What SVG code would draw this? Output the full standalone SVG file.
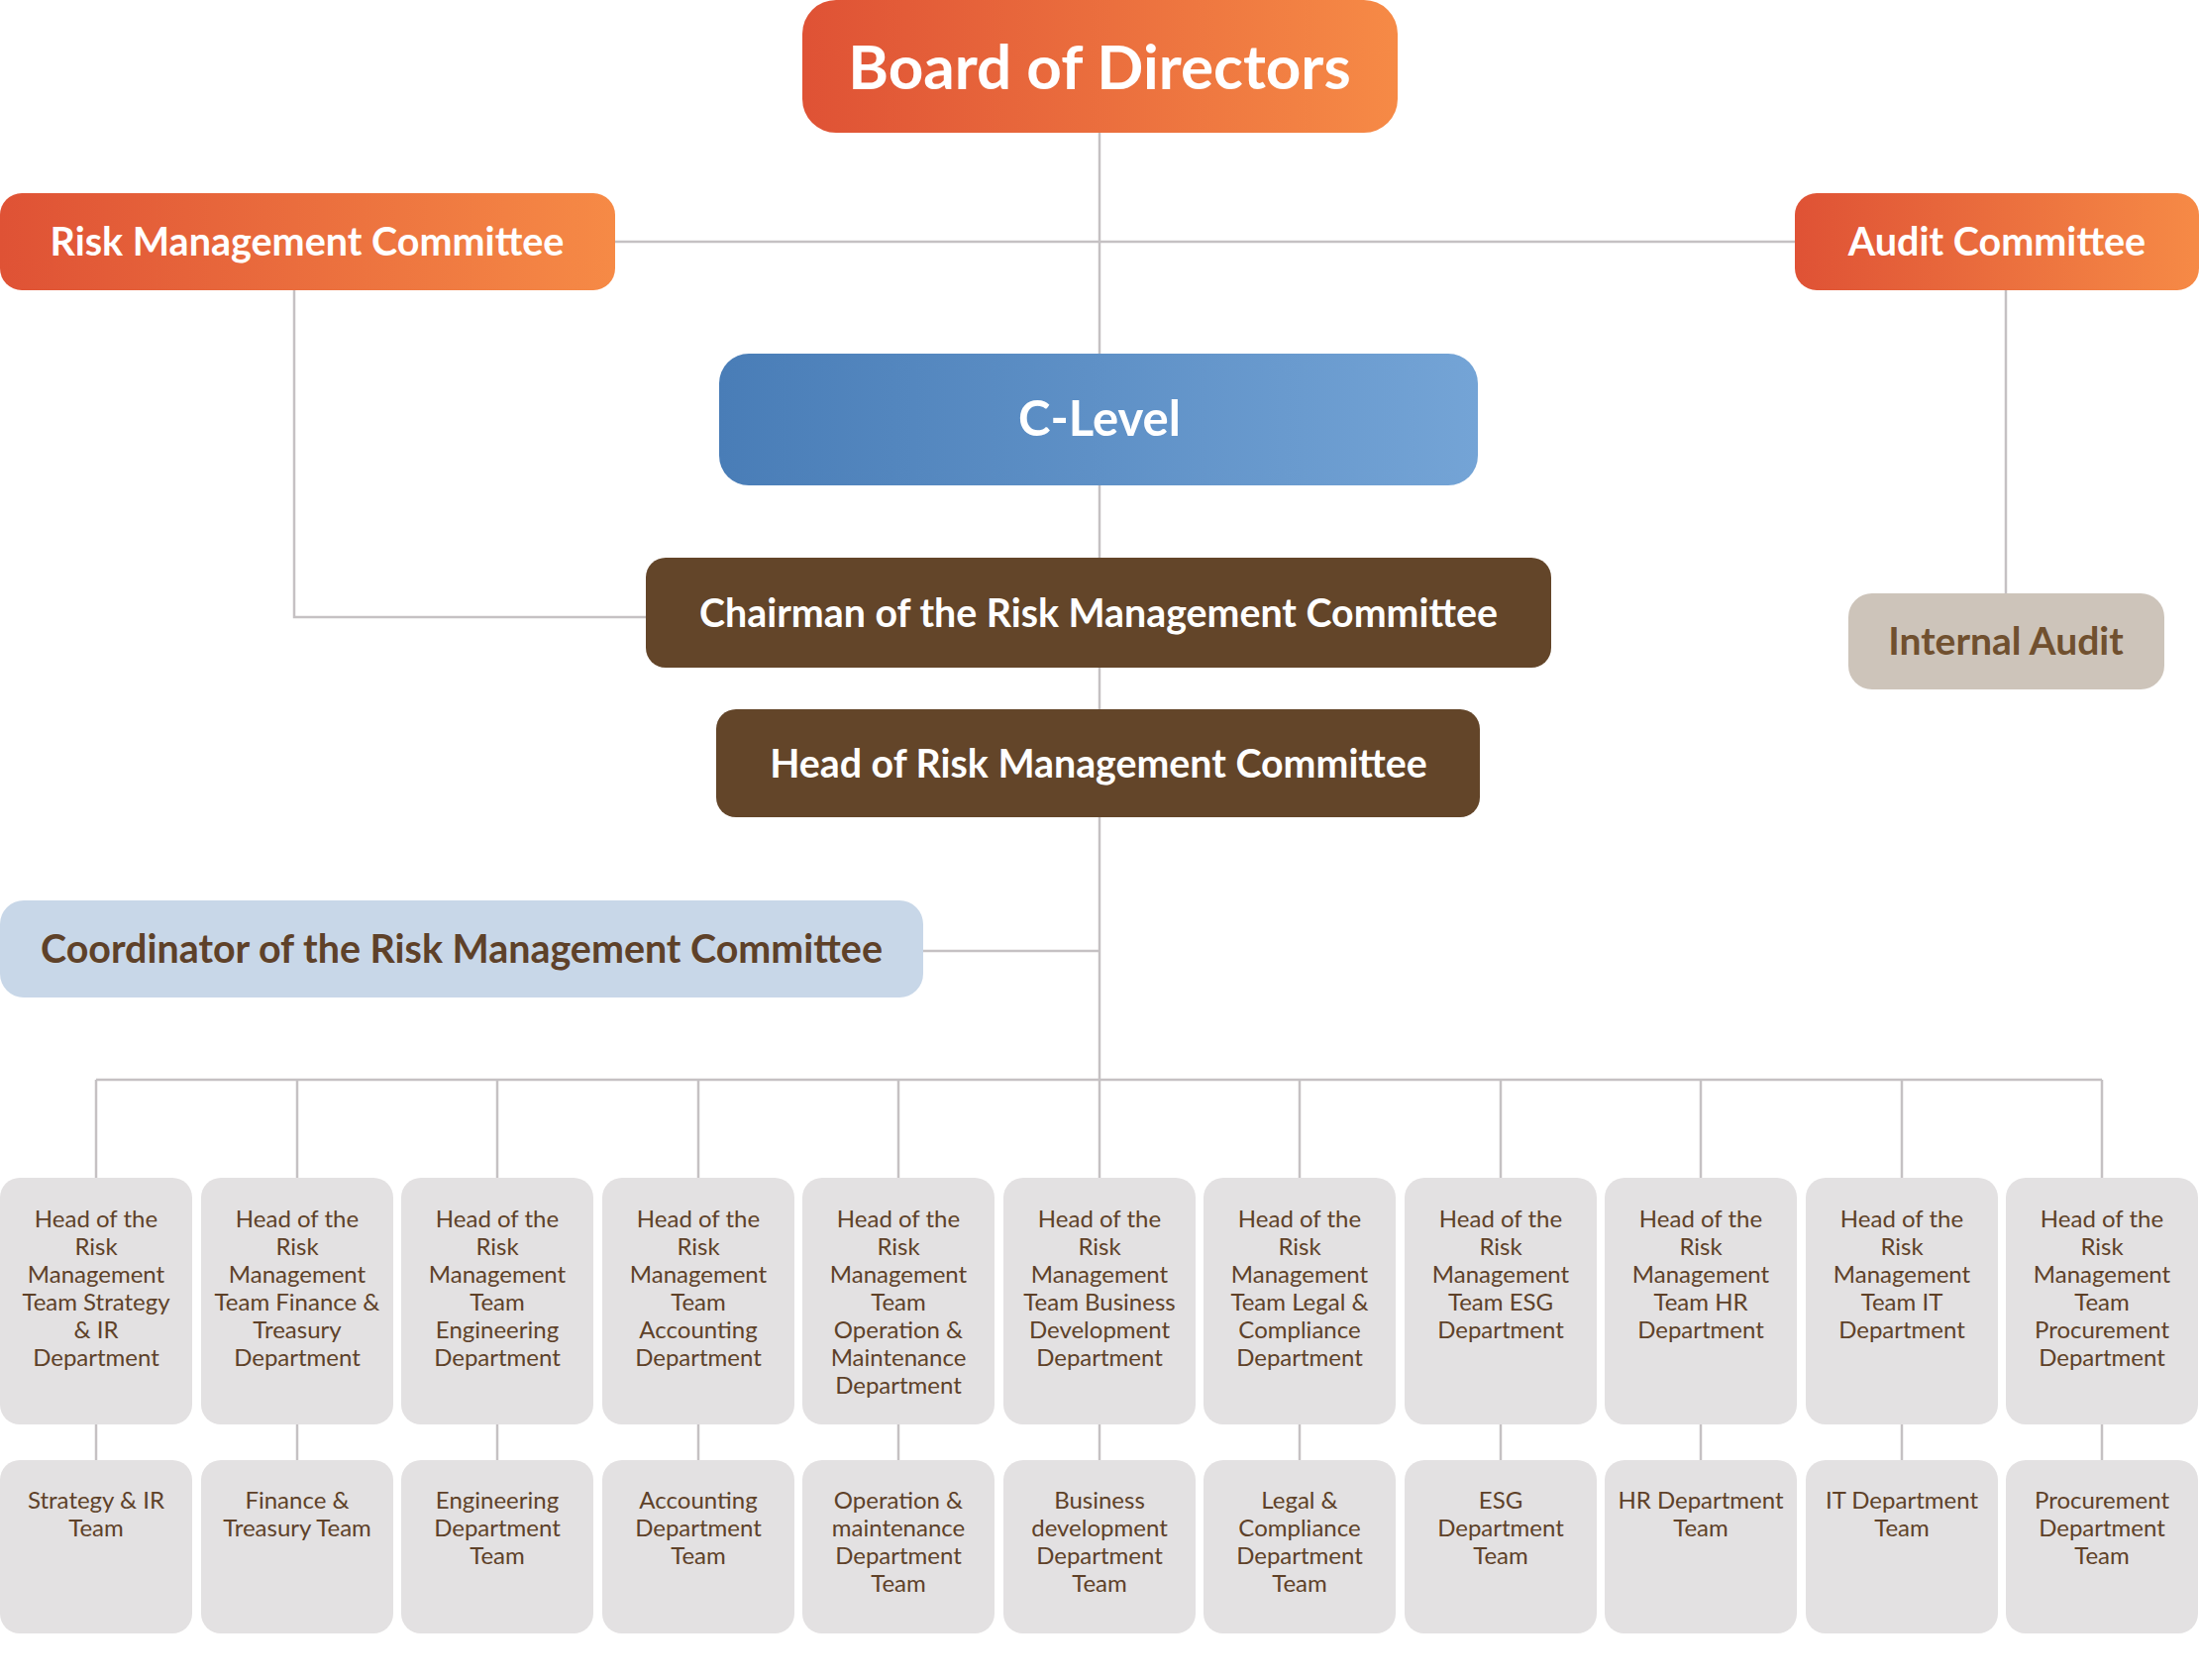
<svg xmlns="http://www.w3.org/2000/svg" width="2220" height="1696" viewBox="0 0 2220 1696">
<defs>
<linearGradient id="orange" x1="0" y1="0" x2="1" y2="0"><stop offset="0" stop-color="#DF5235"/><stop offset="1" stop-color="#F68A46"/></linearGradient>
<linearGradient id="blue" x1="0" y1="0" x2="1" y2="0"><stop offset="0" stop-color="#497DB7"/><stop offset="1" stop-color="#74A4D6"/></linearGradient>
<style>
.ln{stroke:#C5C1C3;stroke-width:2.5;fill:none}
.big{font-family:Lato,"Liberation Sans",sans-serif;font-weight:700;text-anchor:middle}
.w{fill:#FFFFFF}
.br{fill:#5E4129}
.ia{fill:#70502F}
.card{fill:#E3E1E2}
.sm{font-family:Lato,"Liberation Sans",sans-serif;font-size:24px;fill:#5E4129;text-anchor:middle}
</style>
</defs>
<rect width="2220" height="1696" fill="#FFFFFF"/>
<g id="connectors">
<line class="ln" x1="1110" y1="134" x2="1110" y2="357"/>
<line class="ln" x1="621" y1="244" x2="1812" y2="244"/>
<polyline class="ln" points="297,293 297,623 652,623"/>
<line class="ln" x1="2025" y1="293" x2="2025" y2="599"/>
<line class="ln" x1="1110" y1="490" x2="1110" y2="563"/>
<line class="ln" x1="1110" y1="674" x2="1110" y2="716"/>
<line class="ln" x1="1110" y1="825" x2="1110" y2="1090"/>
<line class="ln" x1="932" y1="960" x2="1110" y2="960"/>
<line class="ln" x1="97" y1="1090" x2="2122" y2="1090"/>
<path class="ln" d="M97,1090V1189M300,1090V1189M502,1090V1189M705,1090V1189M907,1090V1189M1110,1090V1189M1312,1090V1189M1515,1090V1189M1717,1090V1189M1920,1090V1189M2122,1090V1189"/>
<path class="ln" d="M97,1438V1474M300,1438V1474M502,1438V1474M705,1438V1474M907,1438V1474M1110,1438V1474M1312,1438V1474M1515,1438V1474M1717,1438V1474M1920,1438V1474M2122,1438V1474"/>
</g>
<g id="board"><rect x="810" y="0" width="601" height="134" rx="34" fill="url(#orange)"/><text class="big w" x="1110" y="90" font-size="62">Board of Directors</text></g>
<g id="rmc"><rect x="0" y="195" width="621" height="98" rx="22" fill="url(#orange)"/><text class="big w" x="310" y="258" font-size="39.5">Risk Management Committee</text></g>
<g id="audit"><rect x="1812" y="195" width="408" height="98" rx="22" fill="url(#orange)"/><text class="big w" x="2016" y="258" font-size="39.5">Audit Committee</text></g>
<g id="internal-audit"><rect x="1866" y="599" width="319" height="97" rx="24" fill="#CDC4BA"/><text class="big ia" x="2025" y="661" font-size="39">Internal Audit</text></g>
<g id="clevel"><rect x="726" y="357" width="766" height="133" rx="30" fill="url(#blue)"/><text class="big w" x="1110" y="440" font-size="49">C-Level</text></g>
<g id="chairman"><rect x="652" y="563" width="914" height="111" rx="20" fill="#634529"/><text class="big w" x="1109" y="633" font-size="39.3">Chairman of the Risk Management Committee</text></g>
<g id="head"><rect x="723" y="716" width="771" height="109" rx="20" fill="#634529"/><text class="big w" x="1109" y="785" font-size="39.3">Head of Risk Management Committee</text></g>
<g id="coordinator"><rect x="0" y="909" width="932" height="98" rx="24" fill="#C8D7E8"/><text class="big br" x="466" y="972" font-size="39.4">Coordinator of the Risk Management Committee</text></g>

<g id="h1"><rect class="card" x="0" y="1189" width="194" height="249" rx="20"/><text class="sm" x="97" y="1239"><tspan x="97">Head of the</tspan><tspan x="97" dy="28">Risk</tspan><tspan x="97" dy="28">Management</tspan><tspan x="97" dy="28">Team Strategy</tspan><tspan x="97" dy="28">&amp; IR</tspan><tspan x="97" dy="28">Department</tspan></text></g>
<g id="h2"><rect class="card" x="203" y="1189" width="194" height="249" rx="20"/><text class="sm" x="300" y="1239"><tspan x="300">Head of the</tspan><tspan x="300" dy="28">Risk</tspan><tspan x="300" dy="28">Management</tspan><tspan x="300" dy="28">Team Finance &amp;</tspan><tspan x="300" dy="28">Treasury</tspan><tspan x="300" dy="28">Department</tspan></text></g>
<g id="h3"><rect class="card" x="405" y="1189" width="194" height="249" rx="20"/><text class="sm" x="502" y="1239"><tspan x="502">Head of the</tspan><tspan x="502" dy="28">Risk</tspan><tspan x="502" dy="28">Management</tspan><tspan x="502" dy="28">Team</tspan><tspan x="502" dy="28">Engineering</tspan><tspan x="502" dy="28">Department</tspan></text></g>
<g id="h4"><rect class="card" x="608" y="1189" width="194" height="249" rx="20"/><text class="sm" x="705" y="1239"><tspan x="705">Head of the</tspan><tspan x="705" dy="28">Risk</tspan><tspan x="705" dy="28">Management</tspan><tspan x="705" dy="28">Team</tspan><tspan x="705" dy="28">Accounting</tspan><tspan x="705" dy="28">Department</tspan></text></g>
<g id="h5"><rect class="card" x="810" y="1189" width="194" height="249" rx="20"/><text class="sm" x="907" y="1239"><tspan x="907">Head of the</tspan><tspan x="907" dy="28">Risk</tspan><tspan x="907" dy="28">Management</tspan><tspan x="907" dy="28">Team</tspan><tspan x="907" dy="28">Operation &amp;</tspan><tspan x="907" dy="28">Maintenance</tspan><tspan x="907" dy="28">Department</tspan></text></g>
<g id="h6"><rect class="card" x="1013" y="1189" width="194" height="249" rx="20"/><text class="sm" x="1110" y="1239"><tspan x="1110">Head of the</tspan><tspan x="1110" dy="28">Risk</tspan><tspan x="1110" dy="28">Management</tspan><tspan x="1110" dy="28">Team Business</tspan><tspan x="1110" dy="28">Development</tspan><tspan x="1110" dy="28">Department</tspan></text></g>
<g id="h7"><rect class="card" x="1215" y="1189" width="194" height="249" rx="20"/><text class="sm" x="1312" y="1239"><tspan x="1312">Head of the</tspan><tspan x="1312" dy="28">Risk</tspan><tspan x="1312" dy="28">Management</tspan><tspan x="1312" dy="28">Team Legal &amp;</tspan><tspan x="1312" dy="28">Compliance</tspan><tspan x="1312" dy="28">Department</tspan></text></g>
<g id="h8"><rect class="card" x="1418" y="1189" width="194" height="249" rx="20"/><text class="sm" x="1515" y="1239"><tspan x="1515">Head of the</tspan><tspan x="1515" dy="28">Risk</tspan><tspan x="1515" dy="28">Management</tspan><tspan x="1515" dy="28">Team ESG</tspan><tspan x="1515" dy="28">Department</tspan></text></g>
<g id="h9"><rect class="card" x="1620" y="1189" width="194" height="249" rx="20"/><text class="sm" x="1717" y="1239"><tspan x="1717">Head of the</tspan><tspan x="1717" dy="28">Risk</tspan><tspan x="1717" dy="28">Management</tspan><tspan x="1717" dy="28">Team HR</tspan><tspan x="1717" dy="28">Department</tspan></text></g>
<g id="h10"><rect class="card" x="1823" y="1189" width="194" height="249" rx="20"/><text class="sm" x="1920" y="1239"><tspan x="1920">Head of the</tspan><tspan x="1920" dy="28">Risk</tspan><tspan x="1920" dy="28">Management</tspan><tspan x="1920" dy="28">Team IT</tspan><tspan x="1920" dy="28">Department</tspan></text></g>
<g id="h11"><rect class="card" x="2025" y="1189" width="194" height="249" rx="20"/><text class="sm" x="2122" y="1239"><tspan x="2122">Head of the</tspan><tspan x="2122" dy="28">Risk</tspan><tspan x="2122" dy="28">Management</tspan><tspan x="2122" dy="28">Team</tspan><tspan x="2122" dy="28">Procurement</tspan><tspan x="2122" dy="28">Department</tspan></text></g>

<g id="t1"><rect class="card" x="0" y="1474" width="194" height="175" rx="20"/><text class="sm" x="97" y="1523"><tspan x="97">Strategy &amp; IR</tspan><tspan x="97" dy="28">Team</tspan></text></g>
<g id="t2"><rect class="card" x="203" y="1474" width="194" height="175" rx="20"/><text class="sm" x="300" y="1523"><tspan x="300">Finance &amp;</tspan><tspan x="300" dy="28">Treasury Team</tspan></text></g>
<g id="t3"><rect class="card" x="405" y="1474" width="194" height="175" rx="20"/><text class="sm" x="502" y="1523"><tspan x="502">Engineering</tspan><tspan x="502" dy="28">Department</tspan><tspan x="502" dy="28">Team</tspan></text></g>
<g id="t4"><rect class="card" x="608" y="1474" width="194" height="175" rx="20"/><text class="sm" x="705" y="1523"><tspan x="705">Accounting</tspan><tspan x="705" dy="28">Department</tspan><tspan x="705" dy="28">Team</tspan></text></g>
<g id="t5"><rect class="card" x="810" y="1474" width="194" height="175" rx="20"/><text class="sm" x="907" y="1523"><tspan x="907">Operation &amp;</tspan><tspan x="907" dy="28">maintenance</tspan><tspan x="907" dy="28">Department</tspan><tspan x="907" dy="28">Team</tspan></text></g>
<g id="t6"><rect class="card" x="1013" y="1474" width="194" height="175" rx="20"/><text class="sm" x="1110" y="1523"><tspan x="1110">Business</tspan><tspan x="1110" dy="28">development</tspan><tspan x="1110" dy="28">Department</tspan><tspan x="1110" dy="28">Team</tspan></text></g>
<g id="t7"><rect class="card" x="1215" y="1474" width="194" height="175" rx="20"/><text class="sm" x="1312" y="1523"><tspan x="1312">Legal &amp;</tspan><tspan x="1312" dy="28">Compliance</tspan><tspan x="1312" dy="28">Department</tspan><tspan x="1312" dy="28">Team</tspan></text></g>
<g id="t8"><rect class="card" x="1418" y="1474" width="194" height="175" rx="20"/><text class="sm" x="1515" y="1523"><tspan x="1515">ESG</tspan><tspan x="1515" dy="28">Department</tspan><tspan x="1515" dy="28">Team</tspan></text></g>
<g id="t9"><rect class="card" x="1620" y="1474" width="194" height="175" rx="20"/><text class="sm" x="1717" y="1523"><tspan x="1717">HR Department</tspan><tspan x="1717" dy="28">Team</tspan></text></g>
<g id="t10"><rect class="card" x="1823" y="1474" width="194" height="175" rx="20"/><text class="sm" x="1920" y="1523"><tspan x="1920">IT Department</tspan><tspan x="1920" dy="28">Team</tspan></text></g>
<g id="t11"><rect class="card" x="2025" y="1474" width="194" height="175" rx="20"/><text class="sm" x="2122" y="1523"><tspan x="2122">Procurement</tspan><tspan x="2122" dy="28">Department</tspan><tspan x="2122" dy="28">Team</tspan></text></g>
</svg>
